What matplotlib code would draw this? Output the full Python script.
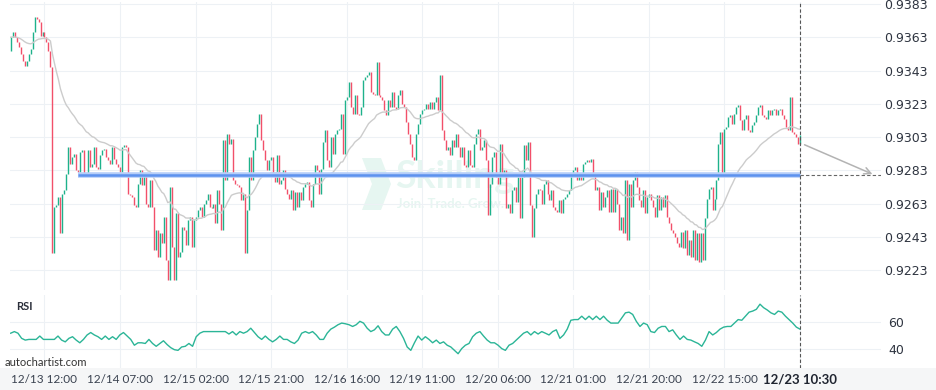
import numpy as np
import pandas as pd
import matplotlib.pyplot as plt
from matplotlib.patches import Polygon, Rectangle

# 30-minute closes, one list per session block
closes_a = [0.9363, 0.9366, 0.9363, 0.9360, 0.9357, 0.9353, 0.9349, 0.9346, 0.9349, 0.9353,
            0.9356, 0.9366, 0.9375, 0.9374, 0.9372, 0.9364, 0.9366, 0.9363, 0.9360, 0.9355,
            0.9345, 0.9233, 0.9261, 0.9262, 0.9267, 0.9245, 0.9269, 0.9271, 0.9281, 0.9297,
            0.9287, 0.9291, 0.9293, 0.9283, 0.9282, 0.9294, 0.9295, 0.9281, 0.9280, 0.9295,
            0.9285, 0.9287, 0.9297, 0.9285, 0.9284, 0.9292, 0.9295, 0.9296, 0.9291, 0.9289]
closes_b = [0.9287, 0.9297, 0.9290, 0.9287, 0.9285, 0.9282, 0.9297, 0.9298, 0.9297, 0.9269,
            0.9268, 0.9267, 0.9262, 0.9261, 0.9275, 0.9283, 0.9274, 0.9281, 0.9263, 0.9261,
            0.9277, 0.9261, 0.9235, 0.9247, 0.9231, 0.9245, 0.9239, 0.9255, 0.9229, 0.9217,
            0.9273, 0.9237, 0.9217, 0.9257, 0.9231, 0.9234, 0.9249, 0.9247, 0.9238, 0.9253,
            0.9255, 0.9237, 0.9253, 0.9255, 0.9259, 0.9261, 0.9255, 0.9263, 0.9265, 0.9269]
closes_c = [0.9261, 0.9260, 0.9263, 0.9251, 0.9271, 0.9263, 0.9247, 0.9301, 0.9277, 0.9305,
            0.9299, 0.9302, 0.9277, 0.9275, 0.9274, 0.9273, 0.9265, 0.9269, 0.9233, 0.9259,
            0.9291, 0.9277, 0.9295, 0.9303, 0.9311, 0.9317, 0.9301, 0.9295, 0.9289, 0.9283,
            0.9289, 0.9291, 0.9281, 0.9276, 0.9292, 0.9275, 0.9277, 0.9283, 0.9272, 0.9269,
            0.9266, 0.9271, 0.9259, 0.9270, 0.9261, 0.9270, 0.9265, 0.9273, 0.9275, 0.9276]
closes_d = [0.9265, 0.9261, 0.9275, 0.9286, 0.9283, 0.9269, 0.9284, 0.9300, 0.9307, 0.9289,
            0.9285, 0.9303, 0.9293, 0.9305, 0.9307, 0.9308, 0.9317, 0.9293, 0.9325, 0.9327,
            0.9336, 0.9321, 0.9317, 0.9328, 0.9317, 0.9316, 0.9321, 0.9337, 0.9339, 0.9340,
            0.9342, 0.9330, 0.9329, 0.9328, 0.9348, 0.9328, 0.9327, 0.9325, 0.9319, 0.9316,
            0.9325, 0.9321, 0.9330, 0.9321, 0.9320, 0.9328, 0.9331, 0.9323, 0.9321, 0.9312]
closes_e = [0.9305, 0.9299, 0.9291, 0.9289, 0.9305, 0.9311, 0.9317, 0.9319, 0.9320, 0.9323,
            0.9320, 0.9324, 0.9320, 0.9324, 0.9327, 0.9319, 0.9340, 0.9307, 0.9301, 0.9295,
            0.9297, 0.9292, 0.9301, 0.9297, 0.9305, 0.9297, 0.9291, 0.9297, 0.9286, 0.9285,
            0.9295, 0.9286, 0.9285, 0.9299, 0.9305, 0.9308, 0.9295, 0.9297, 0.9301, 0.9289,
            0.9256, 0.9275, 0.9291, 0.9294, 0.9279, 0.9275, 0.9299, 0.9281, 0.9283, 0.9260]
closes_f = [0.9263, 0.9257, 0.9271, 0.9273, 0.9264, 0.9279, 0.9254, 0.9279, 0.9298, 0.9289,
            0.9300, 0.9262, 0.9243, 0.9260, 0.9269, 0.9272, 0.9271, 0.9263, 0.9275, 0.9277,
            0.9269, 0.9265, 0.9271, 0.9261, 0.9259, 0.9258, 0.9265, 0.9257, 0.9266, 0.9267,
            0.9269, 0.9271, 0.9281, 0.9283, 0.9285, 0.9277, 0.9281, 0.9277, 0.9287, 0.9288,
            0.9289, 0.9288, 0.9290, 0.9281, 0.9271, 0.9273, 0.9259, 0.9270, 0.9261, 0.9267]
closes_g = [0.9271, 0.9258, 0.9272, 0.9258, 0.9272, 0.9263, 0.9247, 0.9255, 0.9245, 0.9277,
            0.9241, 0.9275, 0.9261, 0.9277, 0.9282, 0.9273, 0.9265, 0.9261, 0.9271, 0.9257,
            0.9267, 0.9269, 0.9265, 0.9261, 0.9255, 0.9268, 0.9259, 0.9267, 0.9261, 0.9268,
            0.9255, 0.9251, 0.9247, 0.9245, 0.9243, 0.9239, 0.9237, 0.9246, 0.9236, 0.9247,
            0.9232, 0.9241, 0.9231, 0.9247, 0.9229, 0.9245, 0.9228, 0.9245, 0.9229, 0.9254]
closes_h = [0.9266, 0.9272, 0.9273, 0.9259, 0.9266, 0.9277, 0.9299, 0.9306, 0.9280, 0.9308,
            0.9309, 0.9315, 0.9316, 0.9311, 0.9317, 0.9321, 0.9322, 0.9313, 0.9307, 0.9314,
            0.9316, 0.9307, 0.9306, 0.9310, 0.9312, 0.9316, 0.9321, 0.9322, 0.9316, 0.9315,
            0.9314, 0.9319, 0.9316, 0.9319, 0.9320, 0.9316, 0.9319, 0.9320, 0.9316, 0.9314,
            0.9309, 0.9307, 0.9327, 0.9306, 0.9305, 0.9303, 0.9299, 0.9304]
first_open = 0.9355

rsi_values = [51.7, 52.9, 51.7, 47.9, 46.6, 47.1, 47.1, 47.1, 49.6, 47.1, 47.1, 47.1, 47.1, 49.6,
              46.6, 45.3, 47.9, 49.1, 46.6, 44.6, 47.1, 50.4, 52.2, 50.4, 49.1, 47.1, 49.6, 47.1,
              49.1, 47.1, 50.4, 52.2, 49.6, 47.1, 42.8, 44.6, 44.6, 44.1, 47.1, 44.1, 42.0, 44.1,
              46.1, 43.3, 41.0, 39.5, 39.0, 41.5, 42.0, 44.1, 42.0, 49.1, 51.7, 52.9, 52.9, 52.9,
              52.9, 52.9, 52.9, 52.9, 51.1, 52.9, 50.4, 52.9, 51.7, 52.9, 55.4, 52.2, 49.1, 47.1,
              49.6, 47.1, 45.3, 47.1, 49.6, 47.1, 47.1, 45.3, 44.1, 46.6, 51.7, 52.9, 51.7, 52.9,
              50.4, 47.1, 47.1, 51.7, 54.7, 56.2, 58.0, 59.2, 58.7, 58.0, 56.7, 58.0, 60.5, 59.2,
              55.4, 52.9, 54.2, 57.2, 52.9, 50.4, 50.4, 54.7, 56.7, 52.9, 47.9, 41.5, 39.0, 44.6,
              49.6, 46.6, 49.1, 47.1, 44.6, 46.6, 44.1, 45.3, 42.8, 41.5, 39.0, 36.5, 40.3, 42.8,
              44.1, 49.1, 51.7, 52.9, 49.6, 46.6, 44.6, 44.6, 42.8, 40.3, 39.0, 42.8, 44.1, 46.6,
              49.1, 51.7, 52.9, 50.4, 52.9, 51.1, 52.9, 51.7, 50.4, 52.9, 54.2, 47.9, 50.4, 54.7,
              61.3, 61.8, 61.8, 64.3, 61.8, 64.3, 61.8, 64.3, 61.8, 64.3, 61.3, 59.2, 59.2, 59.2,
              63.0, 66.8, 67.3, 65.6, 60.5, 56.7, 59.2, 58.0, 52.9, 52.2, 55.4, 56.7, 56.7, 52.9,
              54.2, 50.4, 47.1, 49.6, 47.1, 46.6, 45.3, 44.1, 42.0, 46.6, 52.9, 50.4, 52.2, 54.7,
              56.2, 56.7, 56.7, 59.2, 61.8, 61.3, 64.3, 67.3, 68.1, 69.4, 73.2, 70.6, 68.9, 66.8,
              65.6, 68.1, 67.3, 64.3, 61.8, 59.2, 56.2, 54.7]

tick_labels = ['12/13 12:00', '12/14 07:00', '12/15 02:00', '12/15 21:00', '12/16 16:00',
               '12/19 11:00', '12/20 06:00', '12/21 01:00', '12/21 20:00', '12/22 15:00',
               '12/23 10:30']
price_ticks = [0.9223, 0.9243, 0.9263, 0.9283, 0.9303, 0.9323, 0.9343, 0.9363, 0.9383]
rsi_ticks = [40, 60]
target_level = 0.9280
pattern_start = 34
forecast_from = 0.9299

GREEN = '#1eb28b'
RED = '#f2506a'
GRID = '#edf1f5'
W, H = 936, 390

closes = np.array(closes_a + closes_b + closes_c + closes_d + closes_e + closes_f + closes_g + closes_h)
opens = np.concatenate([[first_open], closes[:-1]])
idx = np.arange(len(closes))
last = idx[-1]
ma = pd.Series(closes).ewm(span=32, adjust=False).mean()

tick_pos = [last - 38 * k for k in range(len(tick_labels))][::-1]

fig = plt.figure(figsize=(W / 100, H / 100), dpi=100)
fig.patch.set_facecolor('white')
fig.patches.append(Rectangle((0, 0), 1, 22 / H, transform=fig.transFigure,
                             facecolor='#f5f6f7', edgecolor='none', zorder=-5))

x0, x1 = 10 / W, 881 / W
px = 789.3 / last  # pixels per candle
xlim = (-0.7 / px, last + 81 / px)

ax = fig.add_axes([x0, 100 / H, x1 - x0, 288 / H])
ax.set_facecolor('none')
step = 0.016 / 266
ax.set_ylim(0.9223 - 20 * step, 0.9383 + 2 * step)
ax.set_xlim(*xlim)

# watermark
wm = '#e6f6f1'
ax.add_patch(Polygon([(362 / W, 1 - 158 / H), (381 / W, 1 - 158 / H), (391 / W, 1 - 184 / H),
                      (381 / W, 1 - 210 / H), (362 / W, 1 - 210 / H), (372 / W, 1 - 184 / H)],
                     closed=True, transform=fig.transFigure, facecolor=wm,
                     edgecolor='none', zorder=0.5))
ax.text(395 / W, 1 - 177 / H, 'Skilling', transform=fig.transFigure, fontsize=27,
        fontweight='bold', color=wm, va='center', ha='left', family='Lato', zorder=0.5)
ax.text(397 / W, 1 - 204 / H, 'Join. Trade. Grow.', transform=fig.transFigure, fontsize=9.5,
        fontweight='bold', color=wm, va='center', ha='left', family='Lato', zorder=0.5)

up = closes >= opens
lo = np.minimum(opens, closes)
hi = np.maximum(np.maximum(opens, closes), lo + 0.00009)
ax.vlines(idx, lo, hi, colors=np.where(up, GREEN, RED), lw=1.0, capstyle='butt', zorder=2)
ax.plot(idx, ma, color='#cccccc', lw=1, zorder=3)

ax.hlines(target_level, pattern_start, last, color='#b5cdf8', lw=4, zorder=3)
ax.hlines(target_level, pattern_start, last, color='#5d92ee', lw=1.8, zorder=3)
ax.hlines(target_level, last, xlim[1], color='#666666', lw=0.8, linestyles=(0, (3, 2)), zorder=3)
ax.annotate('', xy=(last + 75 / px, target_level), xytext=(last + 1, forecast_from),
            arrowprops=dict(arrowstyle='->', color='#b3b3b3', lw=1.1, mutation_scale=12),
            zorder=4)
ax.axvline(last, color='#555555', lw=0.8, linestyle=(0, (3, 2)), zorder=4)

ax.set_yticks(price_ticks)
ax.set_yticklabels([f'{v:.4f}' for v in price_ticks])
ax.yaxis.tick_right()
ax.tick_params(axis='y', length=0, pad=2, labelsize=9, labelcolor='#2e3440')
for t in ax.get_yticklabels():
    t.set_family('DejaVu Sans')
ax.set_xticks(tick_pos)
ax.tick_params(axis='x', length=0, labelbottom=False)
ax.grid(color=GRID, lw=0.8)
ax.set_axisbelow(True)
for s in ax.spines.values():
    s.set_visible(False)

rx = fig.add_axes([x0, 22 / H, x1 - x0, 73 / H])
rx.set_facecolor('none')
rx.set_xlim(*xlim)
rx.set_ylim(40 - 19 / 1.35, 60 + 27 / 1.35)
rsi_x = np.linspace(0, last, len(rsi_values))
rx.plot(rsi_x, rsi_values, color='#2bb597', lw=1, zorder=3)
rx.axvline(last, color='#555555', lw=0.8, linestyle=(0, (3, 2)), zorder=4)
rx.set_yticks(rsi_ticks)
rx.set_yticklabels([str(v) for v in rsi_ticks])
rx.yaxis.tick_right()
rx.tick_params(axis='y', length=0, pad=5, labelsize=9, labelcolor='#2e3440')
for t in rx.get_yticklabels():
    t.set_family('DejaVu Sans')
rx.set_xticks(tick_pos)
rx.set_xticklabels(tick_labels)
rx.tick_params(axis='x', length=0, pad=4, labelsize=8.5, labelcolor='#3a4250')
for t in rx.get_xticklabels():
    t.set_family('Lato')
xl = rx.get_xticklabels()[-1]
xl.set_fontweight('bold')
xl.set_fontsize(9.5)
xl.set_color('#1f2430')
rx.grid(color=GRID, lw=0.8)
rx.set_axisbelow(True)
for s in rx.spines.values():
    s.set_visible(False)

fig.text(16 / W, 1 - 307 / H, 'RSI', fontsize=8, color='#2b2f3a', family='Lato',
         fontweight='bold', va='center')
fig.text(5 / W, 1 - 363 / H, 'autochartist.com', fontsize=8, color='#333333', family='Lato',
         va='center')

fig.savefig('out.png', dpi=100)
